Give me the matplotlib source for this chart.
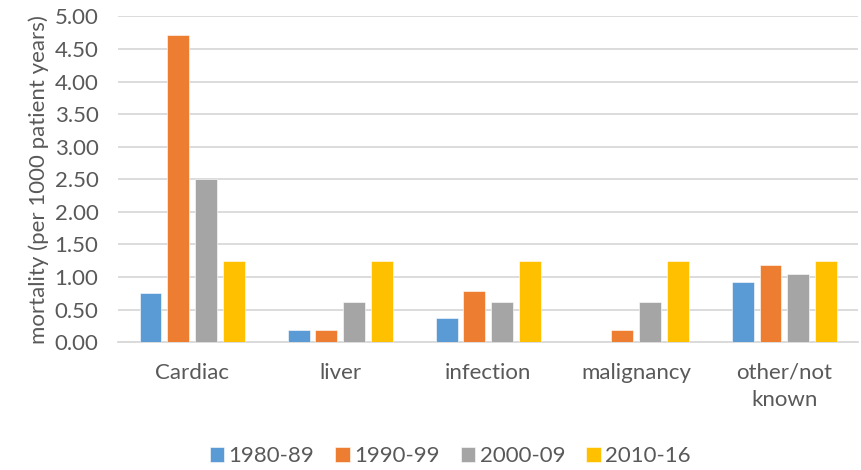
import numpy as np
import matplotlib.pyplot as plt

# Data
categories = ['Cardiac', 'liver', 'infection', 'malignancy', 'other/not\nknown']
series_names = ['1980-89', '1990-99', '2000-09', '2010-16']
v_1980 = [0.75, 0.18, 0.37, 0.0, 0.93]
v_1990 = [4.72, 0.19, 0.78, 0.19, 1.18]
v_2000 = [2.50, 0.62, 0.62, 0.62, 1.04]
v_2010 = [1.25, 1.25, 1.25, 1.25, 1.25]
series = [v_1980, v_1990, v_2000, v_2010]
colors = ['#5B9BD5', '#ED7D31', '#A5A5A5', '#FFC000']

plt.rcParams['font.family'] = ['Lato', 'DejaVu Sans']
text_color = '#595959'

fig = plt.figure(figsize=(8.61, 4.70), dpi=100)
ax = fig.add_axes([0.137, 0.272, 0.860, 0.693])

x = np.arange(len(categories))
step = 0.187
width = 0.148
for i, (vals, name, c) in enumerate(zip(series, series_names, colors)):
    ax.bar(x + (i - 1.5) * step, vals, width, color=c, label=name,
           edgecolor='white', linewidth=0.4, zorder=3)

ax.set_xlim(-0.5, len(categories) - 0.5)
ax.set_ylim(0, 5)
ax.set_yticks(np.arange(0, 5.01, 0.5))
ax.set_yticklabels([f'{t:.2f}' for t in np.arange(0, 5.01, 0.5)])
ax.set_xticks(x)
ax.set_xticklabels(categories, linespacing=1.45)
ax.tick_params(axis='both', length=0, labelsize=16, colors=text_color)
ax.tick_params(axis='x', pad=15)
ax.tick_params(axis='y', pad=14)

ax.grid(axis='y', color='#D9D9D9', linewidth=1.3, zorder=0)
for s in ['top', 'right', 'left']:
    ax.spines[s].set_visible(False)
ax.spines['bottom'].set_color('#D9D9D9')
ax.spines['bottom'].set_linewidth(1.3)

ax.set_ylabel('mortality (per 1000 patient years)', fontsize=16, color=text_color, labelpad=4)

leg = fig.legend(loc='lower center', bbox_to_anchor=(0.523, -0.035), ncol=4, frameon=False,
                 fontsize=16, handlelength=0.65, handleheight=0.65, handletextpad=0.2,
                 columnspacing=0.95)
for t in leg.get_texts():
    t.set_color(text_color)

plt.savefig('out.png', dpi=100)
